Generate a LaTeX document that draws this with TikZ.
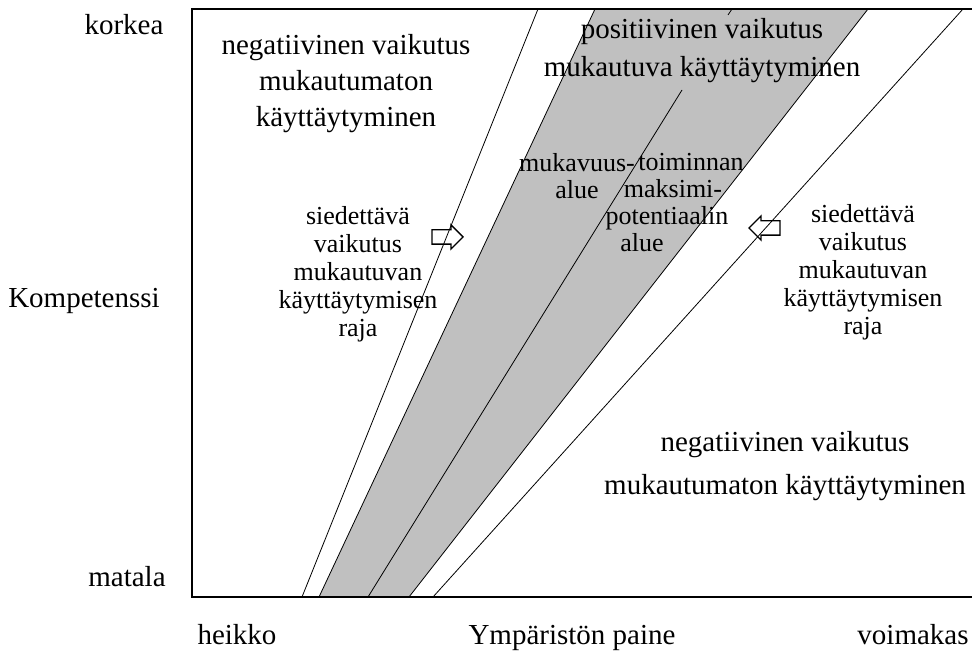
\documentclass[tikz,border=0pt]{standalone}
\usepackage{fontspec}
\setmainfont{Liberation Serif}
\usepackage{xcolor}
\usepackage{tikz}
\usetikzlibrary{shapes.arrows, positioning}
\definecolor{zonegray}{HTML}{C0C0C0}

\begin{document}
\begin{tikzpicture}[
    x=1pt, y=-1pt,
    bigtext/.style={align=center, font=\fontsize{29}{36}\selectfont},
    smalltext/.style={align=center, font=\fontsize{26}{28}\selectfont},
    axistext/.style={anchor=base, font=\fontsize{29}{32}\selectfont},
    edge/.style={line width=0.8pt},
    pusharrow/.style={draw, line width=1.3pt, fill=white, single arrow, single arrow head extend=5pt,
        inner xsep=0pt, inner ysep=6.5pt, minimum height=31pt}
]
\useasboundingbox (0,0) rectangle (972,652);
\clip (0,0) rectangle (972,652);

% ends of the zone lines
\coordinate (b1) at (302,597); \coordinate (t1) at (538,9);
\coordinate (b2) at (319,597); \coordinate (t2) at (595,9);
\coordinate (b3) at (368,597); \coordinate (m3) at (682,90);
\coordinate (s3) at (728,15);  \coordinate (t3) at (732,9);
\coordinate (b4) at (409,597); \coordinate (t4) at (868,9);
\coordinate (b5) at (433,597); \coordinate (t5) at (963,9);

\fill[zonegray] (b2) -- (t2) -- (t4) -- (b4) -- cycle;

\node (pushleft) [pusharrow] at (444,237) {};
\node (pushright) [pusharrow, shape border rotate=180] at (768,228) {};

\draw[edge] (b1) -- (t1);
\draw[edge] (b2) -- (t2);
\draw[edge] (b3) -- (m3);
\draw[edge] (s3) -- (t3);
\draw[edge] (b4) -- (t4);
\draw[edge] (b5) -- (t5);

% frame
\draw[line width=2.8pt] (192,9) rectangle (985,597);

% zone texts
\node (negtop) [bigtext] at (346,84) {negatiivinen vaikutus\\mukautumaton\\käyttäytyminen};
\node (postop) [bigtext, font=\fontsize{29}{38}\selectfont] at (702,51) {positiivinen vaikutus\\mukautuva käyttäytyminen};
\node (negbottom) [bigtext, font=\fontsize{29}{43}\selectfont] at (785,466) {negatiivinen vaikutus\\mukautumaton käyttäytyminen};
\node (limitleft) [smalltext] at (358,274) {siedettävä\\vaikutus\\mukautuvan\\käyttäytymisen\\raja};
\node (limitright) [smalltext] at (863,272) {siedettävä\\vaikutus\\mukautuvan\\käyttäytymisen\\raja};
\node (comfort) [smalltext, font=\fontsize{26}{27}\selectfont] at (577,176) {mukavuus-\\alue};
\node (maxzone) [smalltext, font=\fontsize{26}{27}\selectfont] at (667,203)
    {\hspace*{48pt}toiminnan\\\hspace*{12pt}maksimi-\\potentiaalin\\alue\hspace*{50pt}};

% axis texts
\node (high) [axistext] at (124,35) {korkea};
\node (comp) [axistext] at (84,308) {Kompetenssi};
\node (low) [axistext] at (127,586) {matala};
\node (weak) [axistext] at (237,644) {heikko};
\node (press) [axistext] at (572,644) {Ympäristön paine};
\node (strong) [axistext] at (913,644) {voimakas};
\end{tikzpicture}
\end{document}
